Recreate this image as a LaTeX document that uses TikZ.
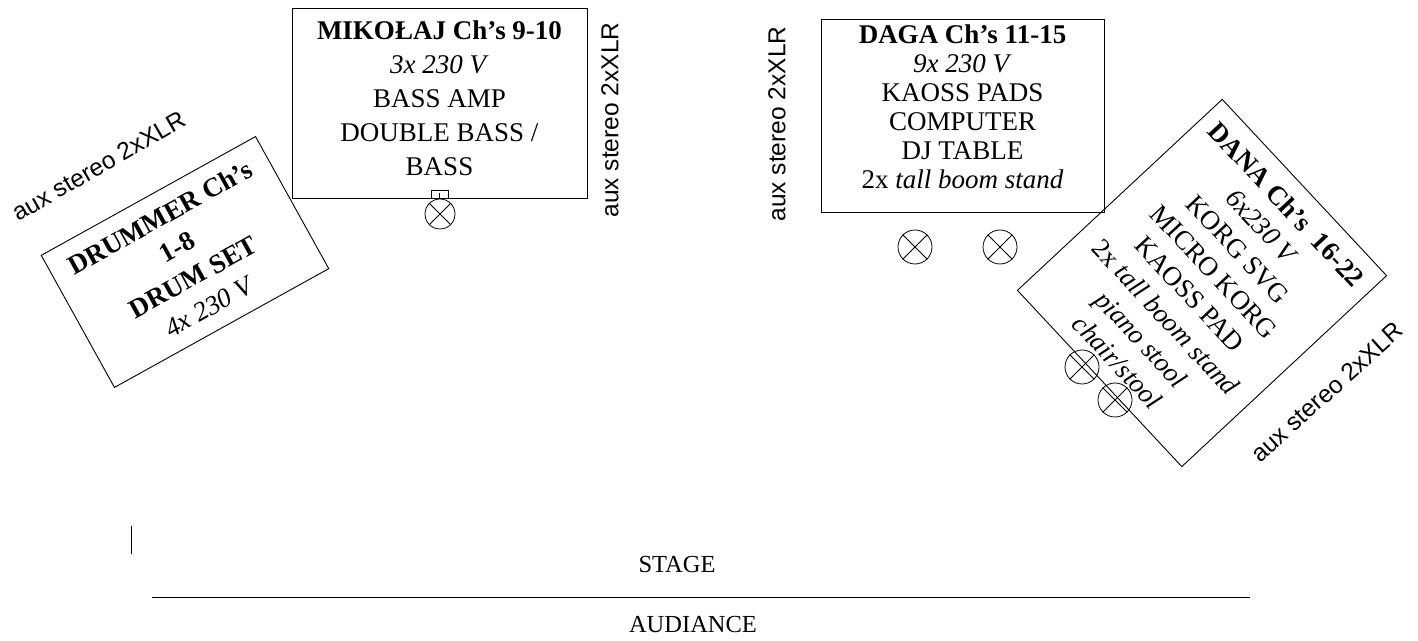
\documentclass[tikz,border=0pt]{standalone}
\usepackage{fontspec}
\setmainfont{Liberation Serif}
\setsansfont{Liberation Sans}
\usetikzlibrary{positioning}

\tikzset{
    stagebox/.style={draw, line width=0.9pt, inner sep=0pt},
    boxtext/.style={align=center, inner sep=0pt, font=\fontsize{27}{34}\selectfont},
    auxlabel/.style={inner sep=0pt, font=\sffamily\fontsize{24.5}{28}\selectfont},
    lamp/.style={draw, circle, line width=0.8pt, inner sep=0pt, minimum size=30pt},
    plain/.style={inner sep=0pt, font=\fontsize{24.5}{28}\selectfont}
}
\newcommand{\lampcross}[1]{\draw[line width=0.8pt] (#1.north east) -- (#1.south west) (#1.north west) -- (#1.south east);}

\begin{document}
\begin{tikzpicture}[x=1pt, y=1pt]
    \useasboundingbox (0,0) rectangle (1418,640);

    % Drummer - tilted box on the left
    \node[stagebox, boxtext, rotate=29, minimum width=245pt, minimum height=151pt] (drum) at (185,378)
        {\textbf{DRUMMER Ch’s}\\ \textbf{1-8}\\ \textbf{DRUM SET}\\ \textit{4x 230 V}};
    \node[auxlabel, rotate=30] (drumaux) at (99,474) {aux stereo 2xXLR};

    % Mikolaj - bass
    \node[stagebox, minimum width=295pt, minimum height=190pt] (mik) at (439.5,537) {};
    \node[boxtext, below=13pt of mik.north] (miktxt)
        {\textbf{MIKOŁAJ Ch’s 9-10}\\ \textit{3x 230 V}\\ BASS AMP\\ DOUBLE BASS /\\ BASS};
    \node[draw, line width=0.8pt, inner sep=0pt, minimum width=17pt, minimum height=8pt, anchor=south] (mikconn) at (mik.south) {};
    \draw[line width=0.8pt] (mikconn.south) -- ++(0,5);
    \node[lamp] (miklamp) at (440,426) {};
    \lampcross{miklamp}
    \node[auxlabel, rotate=90] (mikaux) at (610,520) {aux stereo 2xXLR};

    % Daga - DJ table
    \node[stagebox, minimum width=283pt, minimum height=193pt] (daga) at (962.5,524.5) {};
    \node[boxtext, font=\fontsize{27}{29}\selectfont, below=6pt of daga.north] (dagatxt)
        {\textbf{DAGA Ch’s 11-15}\\ \textit{9x 230 V}\\ KAOSS PADS\\ COMPUTER\\ DJ TABLE\\ 2x \textit{tall boom stand}};
    \node[auxlabel, rotate=90] (dagaaux) at (777,516) {aux stereo 2xXLR};
    \foreach \i/\x in {1/915, 2/1000} {
        \node[lamp, minimum size=34pt] (dagalamp\i) at (\x,393) {};
        \lampcross{dagalamp\i}
    }

    % Dana - keys, tilted box on the right
    \node[stagebox, boxtext, font=\fontsize{27}{33}\selectfont, rotate=-47, minimum width=241pt, minimum height=280pt] (dana) at (1202,357)
        {\textbf{DANA Ch’s \ 16-22}\\ \textit{6x230 V}\\ KORG SVG\\ MICRO KORG\\ KAOSS PAD\\ 2x \textit{tall boom stand}\\ \textit{piano stool}\\ \textit{chair/stool}};
    \foreach \i/\x/\y in {1/1082/273, 2/1115/240} {
        \node[lamp, minimum size=34pt] (danalamp\i) at (\x,\y) {};
        \lampcross{danalamp\i}
    }
    \node[auxlabel, rotate=42] (danaaux) at (1327,248) {aux stereo 2xXLR};

    % Stage edge
    \draw[line width=0.9pt] (131,114) -- (131,86);
    \node[plain] (stage) at (677,75) {STAGE};
    \coordinate (edgeL) at (152,43);
    \coordinate (edgeR) at (1250,43);
    \draw[line width=1pt] (edgeL) -- (edgeR);
    \node[plain] (aud) at (693,15) {AUDIANCE};
\end{tikzpicture}
\end{document}
